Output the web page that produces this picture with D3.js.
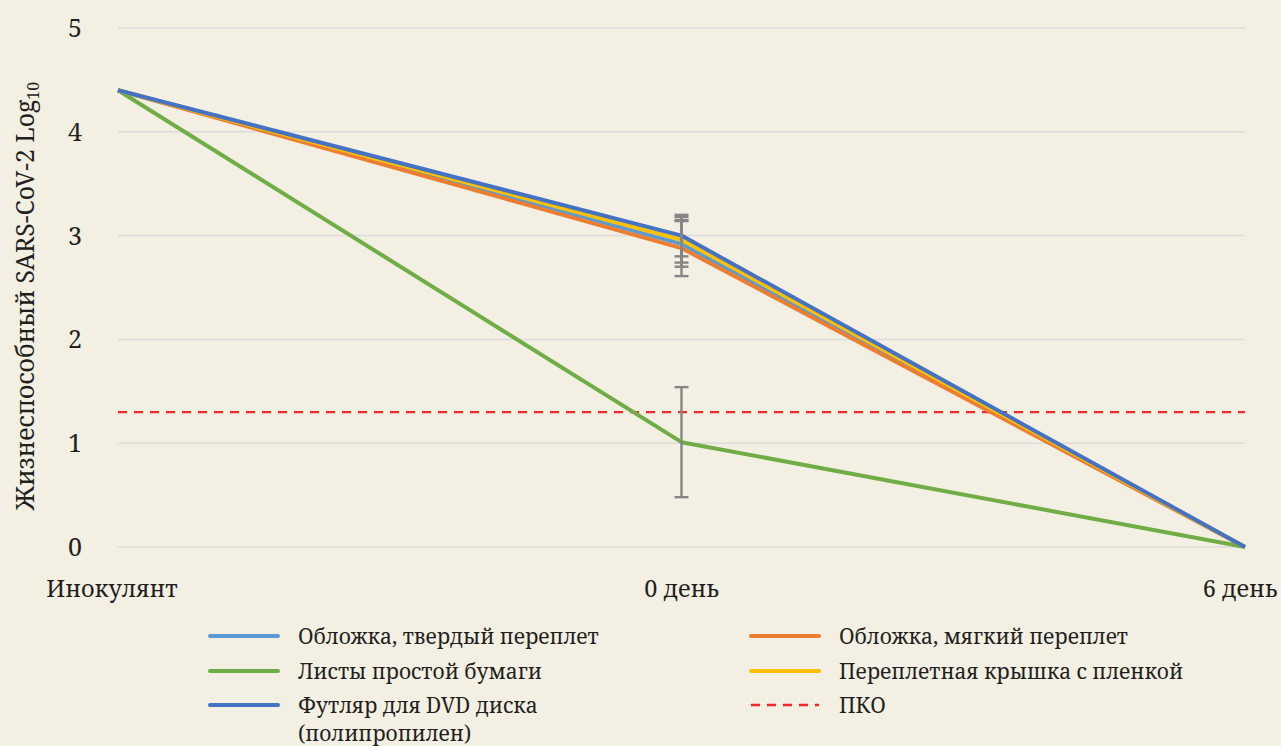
<!DOCTYPE html>
<html>
<head>
<meta charset="utf-8">
<script src="https://cdn.jsdelivr.net/npm/d3@7/dist/d3.min.js"></script>
<style>
  html, body { margin: 0; padding: 0; background: #f3efe3; }
</style>
</head>
<body>
<svg id="chart" width="1281" height="746"></svg>
<script>
// Sampling points along the x axis
const categories = ["Инокулянт", "0 день", "6 день"];

// Viable virus titre per material (log10)
const hardCover   = [4.4, 2.92, 0];
const softCover   = [4.4, 2.88, 0];
const plainPaper  = [4.4, 1.01, 0];
const filmCover   = [4.4, 2.96, 0];
const dvdCase     = [4.4, 3.0, 0];

// Error bar half-widths at each point (null = none drawn)
const hardCoverErr  = [null, 0.22, null];
const softCoverErr  = [null, 0.27, null];
const plainPaperErr = [null, 0.53, null];
const filmCoverErr  = [null, 0.22, null];
const dvdCaseErr    = [null, 0.20, null];

// Limit of detection
const limitOfDetection = 1.3;

const yTicks = [0, 1, 2, 3, 4, 5];

const series = [
  { name: "Обложка, твердый переплет", values: hardCover, err: hardCoverErr, color: "#5b9bd5" },
  { name: "Обложка, мягкий переплет", values: softCover, err: softCoverErr, color: "#ed7d31" },
  { name: "Листы простой бумаги", values: plainPaper, err: plainPaperErr, color: "#70ad47" },
  { name: "Переплетная крышка с пленкой", values: filmCover, err: filmCoverErr, color: "#ffc000" },
  { name: "Футляр для DVD диска", name2: "(полипропилен)", values: dvdCase, err: dvdCaseErr, color: "#4472c4" }
];

const FONT = "Noto Serif, Liberation Serif, serif";
const INK = "#231f20";

const svg = d3.select("#chart").attr("font-family", FONT);

const x = d3.scalePoint().domain(categories).range([118, 1245]).padding(0);
const y = d3.scaleLinear().domain([0, 5]).range([547, 28]);

// Horizontal grid
svg.append("g").selectAll("line").data(yTicks).join("line")
  .attr("x1", 118).attr("x2", 1245)
  .attr("y1", d => y(d)).attr("y2", d => y(d))
  .attr("stroke", "#dcdcdc").attr("stroke-width", 1.5);

// Y tick labels
svg.append("g").selectAll("text").data(yTicks).join("text")
  .attr("x", 75).attr("y", d => y(d))
  .attr("dy", "0.36em").attr("text-anchor", "middle")
  .attr("font-size", 25).attr("fill", INK)
  .text(d => d);

// X category labels (outer labels nudged inward so they stay on the page)
const xNudge = [-6, 0, -5];
svg.append("g").selectAll("text").data(categories).join("text")
  .attr("x", (d, i) => x(d) + xNudge[i])
  .attr("y", 597)
  .attr("text-anchor", "middle")
  .attr("font-size", 23.5).attr("fill", INK)
  .text(d => d);

// Y axis title
const yTitle = svg.append("text")
  .attr("transform", "translate(34,296) rotate(-90)")
  .attr("text-anchor", "middle")
  .attr("font-size", 24.8).attr("fill", INK);
yTitle.append("tspan").text("Жизнеспособный SARS-CoV-2 Log");
yTitle.append("tspan").attr("font-size", 16).attr("dy", 5).text("10");

// Limit of detection
svg.append("line")
  .attr("x1", 118).attr("x2", 1245)
  .attr("y1", y(limitOfDetection)).attr("y2", y(limitOfDetection))
  .attr("stroke", "#ee2a2a").attr("stroke-width", 2.3)
  .attr("stroke-dasharray", "9,7");

const line = d3.line()
  .x((d, i) => x(categories[i]))
  .y(d => y(d));

// Series lines
svg.append("g").selectAll("path").data(series).join("path")
  .attr("d", s => line(s.values))
  .attr("fill", "none")
  .attr("stroke", s => s.color)
  .attr("stroke-width", 4)
  .attr("stroke-linejoin", "round");

// Error bars
const errG = svg.append("g").attr("stroke", "#868686").attr("stroke-width", 2.4);
series.forEach(s => {
  s.values.forEach((v, i) => {
    const e = s.err[i];
    if (e == null) return;
    const cx = x(categories[i]);
    errG.append("line").attr("x1", cx).attr("x2", cx).attr("y1", y(v + e)).attr("y2", y(v - e));
    errG.append("line").attr("x1", cx - 7).attr("x2", cx + 7).attr("y1", y(v + e)).attr("y2", y(v + e));
    errG.append("line").attr("x1", cx - 7).attr("x2", cx + 7).attr("y1", y(v - e)).attr("y2", y(v - e));
  });
});

// Legend
const legendItems = [
  { s: series[0], col: 0, row: 0 },
  { s: series[1], col: 1, row: 0 },
  { s: series[2], col: 0, row: 1 },
  { s: series[3], col: 1, row: 1 },
  { s: series[4], col: 0, row: 2 },
  { s: { name: "ПКО", color: "#ee2a2a", dashed: true }, col: 1, row: 2 }
];
const colX = [207, 748];
const rowY = [636, 671, 705];
const lg = svg.append("g");
legendItems.forEach(it => {
  const gx = colX[it.col], gy = rowY[it.row];
  lg.append("line")
    .attr("x1", gx + 3).attr("x2", gx + 71)
    .attr("y1", gy).attr("y2", gy)
    .attr("stroke", it.s.color)
    .attr("stroke-width", it.s.dashed ? 2.3 : 4)
    .attr("stroke-linecap", it.s.dashed ? "butt" : "round")
    .attr("stroke-dasharray", it.s.dashed ? "9,7" : null);
  lg.append("text")
    .attr("x", gx + 91).attr("y", gy).attr("dy", "0.36em")
    .attr("font-size", 21).attr("fill", INK)
    .text(it.s.name);
  if (it.s.name2) {
    lg.append("text")
      .attr("x", gx + 91).attr("y", gy + 28).attr("dy", "0.36em")
      .attr("font-size", 21).attr("fill", INK)
      .text(it.s.name2);
  }
});
</script>
</body>
</html>
